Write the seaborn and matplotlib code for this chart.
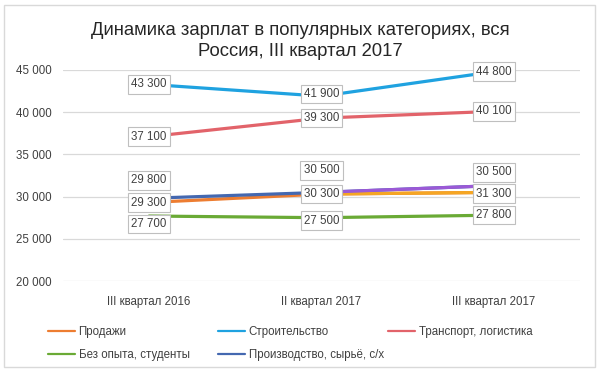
import pandas as pd
import matplotlib
matplotlib.use("Agg")
import matplotlib.pyplot as plt
import seaborn as sns
from matplotlib.lines import Line2D
from matplotlib.patches import Rectangle

sns.set_style("white")
plt.rcParams["font.family"] = ["Liberation Sans", "DejaVu Sans"]

# ---------------- DATA ----------------
quarters = ["III квартал 2016", "II квартал 2017", "III квартал 2017"]
series_names = ["Продажи", "Строительство", "Транспорт, логистика",
                "Без опыта, студенты", "Производство, сырьё, с/х"]
sales = [29300, 30300, 30500]
construction = [43300, 41900, 44800]
transport = [37100, 39300, 40100]
no_experience = [27700, 27500, 27800]
production = [29800, 30500, 31300]
y_ticks = [20000, 25000, 30000, 35000, 40000, 45000]

values = dict(zip(series_names, [sales, construction, transport, no_experience, production]))

colors = {
    "Продажи": "#ed7d31",
    "Строительство": "#1fa2e0",
    "Транспорт, логистика": "#e2636a",
    "Без опыта, студенты": "#6aaa35",
    "Производство, сырьё, с/х": "#4468b0",
}
# last segment of two series is drawn in another colour in the source chart
late_colors = {"Продажи": "#f5a623", "Производство, сырьё, с/х": "#9b59d6"}

# label offsets (px, vertical) per point, to mimic the source placement
label_dy = {
    "Продажи": [0, 0, -20],
    "Строительство": [0, -2, 0],
    "Транспорт, логистика": [0, 0, 0],
    "Без опыта, студенты": [8, 3, 0],
    "Производство, сырьё, с/х": [-18, -22, 8],
}

rows = []
for name in series_names:
    for i, q in enumerate(quarters):
        rows.append({"series": name, "qi": i, "quarter": q, "value": values[name][i]})
df = pd.DataFrame(rows)

# ---------------- PLOT ----------------
fig = plt.figure(figsize=(6, 3.72), dpi=100)
ax = fig.add_axes([63 / 600, 1 - 281 / 372, 517 / 600, 211 / 372])

sns.lineplot(data=df, x="qi", y="value", hue="series", hue_order=series_names,
             palette=colors, linewidth=2.3, legend=False, ax=ax, sort=False)
late = df[df["series"].isin(list(late_colors)) & (df["qi"] >= 1)]
sns.lineplot(data=late, x="qi", y="value", hue="series", palette=late_colors,
             linewidth=2.3, legend=False, ax=ax, sort=False)

ax.set_xlim(-0.5, 2.5)
ax.set_ylim(y_ticks[0], y_ticks[-1])
ax.set_yticks(y_ticks)
ax.set_yticklabels([f"{v:,}".replace(",", " ") for v in y_ticks])
ax.set_xticks(range(len(quarters)))
ax.set_xticklabels(quarters)
ax.set_xlabel("")
ax.set_ylabel("")
ax.yaxis.grid(True, color="#d9d9d9", linewidth=0.9)
ax.set_axisbelow(True)
for s in ax.spines.values():
    s.set_visible(False)
ax.tick_params(axis="y", length=0, pad=8, labelsize=8.3, labelcolor="#404040")
ax.tick_params(axis="x", length=0, pad=11, labelsize=8.3, labelcolor="#404040")

for name in series_names:
    for i, v in enumerate(values[name]):
        ax.annotate(f"{v:,}".replace(",", " "), (i, v),
                    xytext=(0, -label_dy[name][i] * 0.72), textcoords="offset points",
                    ha="center", va="center", fontsize=8.3, color="#404040", zorder=5,
                    bbox=dict(boxstyle="square,pad=0.28", fc="white", ec="#bfbfbf", lw=0.8))

fig.text(0.5, 1 - 41 / 372, "Динамика зарплат в популярных категориях, вся\nРоссия, III квартал 2017",
         ha="center", va="center", fontsize=13.3, color="#262626", linespacing=1.28)

# legend: three fixed-width columns like the source
legend_cols = [["Продажи", "Без опыта, студенты"],
               ["Строительство", "Производство, сырьё, с/х"],
               ["Транспорт, логистика"]]
col_x = [48, 218, 388]
for names, x0 in zip(legend_cols, col_x):
    handles = [Line2D([], [], color=colors[n], linewidth=1.6) for n in names]
    fig.legend(handles, names, loc="upper left", bbox_to_anchor=(x0 / 600, 1 - 326 / 372),
               ncol=1, frameon=False, fontsize=8.3, handlelength=2.3, handletextpad=0.35,
               labelspacing=0.95, labelcolor="#404040", borderaxespad=0, borderpad=0)

fig.patches.append(Rectangle((4 / 600, 5 / 372), 591 / 600, 362 / 372, transform=fig.transFigure,
                             fill=False, ec="#d9d9d9", lw=1))

fig.savefig("out.png", dpi=100)
